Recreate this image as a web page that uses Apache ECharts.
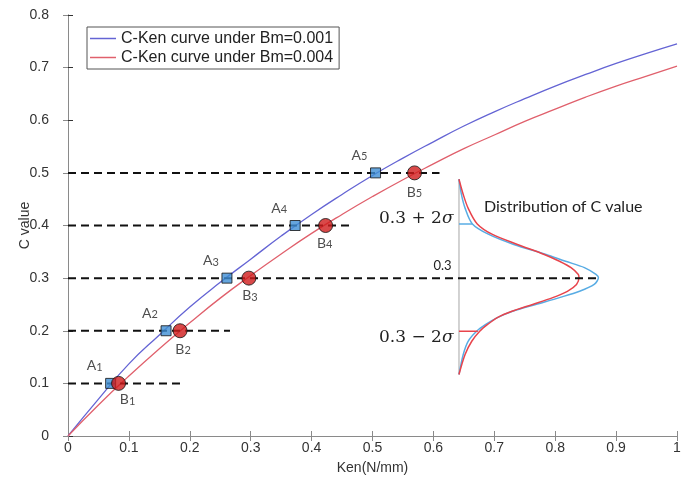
<!DOCTYPE html>
<html>
	<head>
		<meta charset="utf-8">
		<title>C-Ken curve</title>
		<script src="https://cdn.jsdelivr.net/npm/echarts@6/dist/echarts.min.js"></script>
		<style>
			html, body { margin: 0; padding: 0; background: #fff; }
			#main { width: 689px; height: 480px; }
		</style>
	</head>
	<body>
		<div id="main"></div>
		<script>
			// 曲线数据
			var kenX = [0, 0.05, 0.1, 0.15, 0.2, 0.25, 0.3, 0.35, 0.4, 0.45, 0.5, 0.55, 0.6, 0.65, 0.7, 0.75, 0.8, 0.85, 0.9, 0.95, 1];
			var cBm001 = [0, 0.070, 0.137, 0.192, 0.245, 0.292, 0.336, 0.380, 0.421, 0.459, 0.495, 0.528, 0.559, 0.589, 0.616, 0.641, 0.665, 0.687, 0.708, 0.727, 0.745];
			var cBm004 = [0, 0.059, 0.114, 0.166, 0.215, 0.262, 0.305, 0.346, 0.385, 0.421, 0.455, 0.487, 0.517, 0.546, 0.572, 0.598, 0.621, 0.644, 0.665, 0.684, 0.703];

			// A/B 点
			var cLevels = [0.1, 0.2, 0.3, 0.4, 0.5];
			var aKen = [0.070, 0.161, 0.261, 0.373, 0.505];
			var bKen = [0.083, 0.184, 0.297, 0.423, 0.569];
			var dashEnd = [0.192, 0.266, 0.872, 0.467, 0.610];

			// 分布曲线 (横向的钟形)
			var distBlueX = [0.642, 0.646, 0.652, 0.664, 0.691, 0.732, 0.785, 0.817, 0.848, 0.867, 0.871, 0.864, 0.840, 0.807, 0.768, 0.730, 0.705, 0.686, 0.671, 0.657, 0.649, 0.642];
			var distBlueY = [0.488, 0.459, 0.433, 0.403, 0.383, 0.364, 0.345, 0.332, 0.320, 0.307, 0.301, 0.288, 0.275, 0.263, 0.250, 0.237, 0.225, 0.212, 0.199, 0.180, 0.155, 0.117];
			var distRedX = [0.642, 0.649, 0.657, 0.672, 0.697, 0.738, 0.782, 0.807, 0.826, 0.838, 0.839, 0.835, 0.820, 0.796, 0.763, 0.729, 0.705, 0.689, 0.676, 0.663, 0.652, 0.642];
			var distRedY = [0.488, 0.459, 0.433, 0.403, 0.383, 0.364, 0.345, 0.332, 0.320, 0.307, 0.301, 0.288, 0.275, 0.263, 0.250, 0.237, 0.225, 0.212, 0.199, 0.180, 0.155, 0.117];
			var distBase = 0.642;
			var sigmaUp = 0.403, sigmaUpEnd = 0.664;
			var sigmaDown = 0.199, sigmaDownEnd = 0.673;

			var xTicks = [0, 0.1, 0.2, 0.3, 0.4, 0.5, 0.6, 0.7, 0.8, 0.9, 1];
			var yTicks = [0, 0.1, 0.2, 0.3, 0.4, 0.5, 0.6, 0.7, 0.8];

			function zip(xs, ys) {
				return xs.map(function(x, i) { return [x, ys[i]] })
			}

			var blueLine = '#6464d4';
			var redLine = '#e0606c';
			var distBlue = '#58ace4';
			var distRed = '#e8444c';
			var frame = '#8a8a8a';

			var dashSeries = cLevels.map(function(c, i) {
				return {
					type: 'line', data: [[0, c], [dashEnd[i], c]], symbol: 'none', silent: true, z: 3,
					lineStyle: { color: '#111', width: 2, type: [8, 5] }
				}
			})

			var bOffsets = [[9, -2], [3, 0], [1, -1], [-1, -1], [0, 1]];

			var myChart = echarts.init(document.getElementById('main'));
			var option = {
				animation: false,
				grid: { left: 68, right: 12, top: 15, bottom: 43 },
				legend: {
					orient: 'vertical', left: 87, top: 27,
					data: ['C-Ken curve under Bm=0.001', 'C-Ken curve under Bm=0.004'],
					icon: 'rect', itemWidth: 26, itemHeight: 1.5, itemGap: 2,
					padding: [3, 6, 3, 3],
					borderColor: '#555', borderWidth: 1, backgroundColor: '#fff',
					textStyle: { fontFamily: 'Liberation Sans', fontSize: 16, color: '#222', lineHeight: 17 }
				},
				xAxis: [{
					type: 'value', min: 0, max: 1, interval: 0.1,
					name: 'Ken(N/mm)', nameLocation: 'middle', nameGap: 25, nameMoveOverlap: false,
					nameTextStyle: { fontFamily: 'Liberation Sans', fontSize: 14, color: '#333' },
					axisLine: { show: true, lineStyle: { color: frame } },
					axisTick: { inside: true, length: 5, lineStyle: { color: frame } },
					axisLabel: { margin: 5, fontFamily: 'Liberation Sans', fontSize: 14, color: '#333',
						formatter: function(v) { return xTicks.indexOf(Math.round(v * 10) / 10) >= 0 ? String(Math.round(v * 10) / 10) : '' } },
					splitLine: { show: false }
				}, {
					type: 'value', min: 0, max: 1, interval: 0.1, position: 'top',
					axisLine: { show: true, lineStyle: { color: frame } },
					axisTick: { inside: true, length: 5, lineStyle: { color: frame } },
					axisLabel: { show: false }, splitLine: { show: false }
				}],
				yAxis: [{
					type: 'value', min: 0, max: 0.8, interval: 0.1,
					name: 'C value', nameLocation: 'middle', nameGap: 36, nameMoveOverlap: false,
					nameTextStyle: { fontFamily: 'Liberation Sans', fontSize: 14, color: '#333' },
					axisLine: { show: true, lineStyle: { color: frame } },
					axisTick: { inside: true, length: 5, lineStyle: { color: '#333' } },
					axisLabel: { margin: 19, fontFamily: 'Liberation Sans', fontSize: 14, color: '#333',
						formatter: function(v) { return String(Math.round(v * 10) / 10) } },
					splitLine: { show: false }
				}, {
					type: 'value', min: 0, max: 0.8, interval: 0.1, position: 'right',
					axisLine: { show: true, lineStyle: { color: frame } },
					axisTick: { inside: true, length: 5, lineStyle: { color: frame } },
					axisLabel: { show: false }, splitLine: { show: false }
				}],
				series: [{
					name: 'C-Ken curve under Bm=0.001', type: 'line', data: zip(kenX, cBm001),
					smooth: true, symbol: 'none', z: 2,
					lineStyle: { color: blueLine, width: 1.3 }, itemStyle: { color: blueLine }
				}, {
					name: 'C-Ken curve under Bm=0.004', type: 'line', data: zip(kenX, cBm004),
					smooth: true, symbol: 'none', z: 2,
					lineStyle: { color: redLine, width: 1.3 }, itemStyle: { color: redLine }
				}, {
					type: 'line', data: [[distBase, distBlueY[distBlueY.length - 1]], [distBase, distBlueY[0]]],
					symbol: 'none', silent: true, z: 2, lineStyle: { color: '#c4c4c4', width: 1.5 }
				}, {
					type: 'line', data: zip(distBlueX, distBlueY), smooth: 0.3, symbol: 'none', silent: true, z: 2,
					lineStyle: { color: distBlue, width: 1.5 }
				}, {
					type: 'line', data: zip(distRedX, distRedY), smooth: 0.3, symbol: 'none', silent: true, z: 2,
					lineStyle: { color: distRed, width: 1.5 }
				}, {
					type: 'line', data: [[distBase, sigmaUp], [sigmaUpEnd, sigmaUp]], symbol: 'none', silent: true, z: 2,
					lineStyle: { color: distBlue, width: 1.5 }
				}, {
					type: 'line', data: [[distBase, sigmaDown], [sigmaDownEnd, sigmaDown]], symbol: 'none', silent: true, z: 2,
					lineStyle: { color: distRed, width: 1.5 }
				}].concat(dashSeries).concat([{
					type: 'scatter', data: zip(aKen, cLevels), symbol: 'rect', symbolSize: 10, z: 5,
					itemStyle: { color: '#3f8ed4', borderColor: '#111', borderWidth: 1 },
					label: {
						show: true, position: 'top', offset: [-16, 0],
						formatter: function(p) { return '{a|A}{n|' + (p.dataIndex + 1) + '}' },
						rich: {
							a: { fontFamily: 'Lato', fontSize: 14, color: '#222' },
							n: { fontFamily: 'Lato', fontSize: 11, color: '#222', verticalAlign: 'bottom' }
						}
					}
				}, {
					type: 'scatter', data: zip(bKen, cLevels).map(function(d, i) {
						return { value: d, label: { offset: bOffsets[i] } }
					}), symbol: 'circle', symbolSize: 14, z: 5,
					itemStyle: { color: '#d01c1c', borderColor: '#111', borderWidth: 1 },
					label: {
						show: true, position: 'bottom', distance: 4,
						formatter: function(p) { return '{a|B}{n|' + (p.dataIndex + 1) + '}' },
						rich: {
							a: { fontFamily: 'Lato', fontSize: 14, color: '#222' },
							n: { fontFamily: 'Lato', fontSize: 11, color: '#222', verticalAlign: 'bottom' }
						}
					}
				}])
			};
			myChart.setOption(option);

			// 分布图的文字
			function px(x, y) { return myChart.convertToPixel({ gridIndex: 0 }, [x, y]) }
			var pTitle = px(0.683, 0.435);
			var pUp = px(0.633, 0.413);
			var pDown = px(0.633, 0.187);
			var pMid = px(0.615, 0.323);
			function mathText(pos, sign) {
				return {
					type: 'text', x: pos[0], y: pos[1], z: 10,
					style: {
						text: '0.3 ' + sign + ' 2{s|σ}', align: 'right', verticalAlign: 'middle',
						font: '17px "DejaVu Serif"', fill: '#222',
						rich: { s: { fontFamily: 'DejaVu Serif', fontStyle: 'italic', fontSize: 17, fill: '#222' } }
					}
				}
			}
			myChart.setOption({
				graphic: [{
					type: 'text', x: pTitle[0], y: pTitle[1], z: 10,
					style: { text: 'Distribution of C value', verticalAlign: 'middle', font: '16px Lato', fill: '#222' }
				},
				mathText(pUp, '+'),
				mathText(pDown, '−'),
				{
					type: 'text', x: pMid[0], y: pMid[1], z: 10,
					style: { text: '0.3', align: 'center', verticalAlign: 'middle', font: '13px Lato', fill: '#222' }
				}]
			});
		</script>
	</body>
</html>
